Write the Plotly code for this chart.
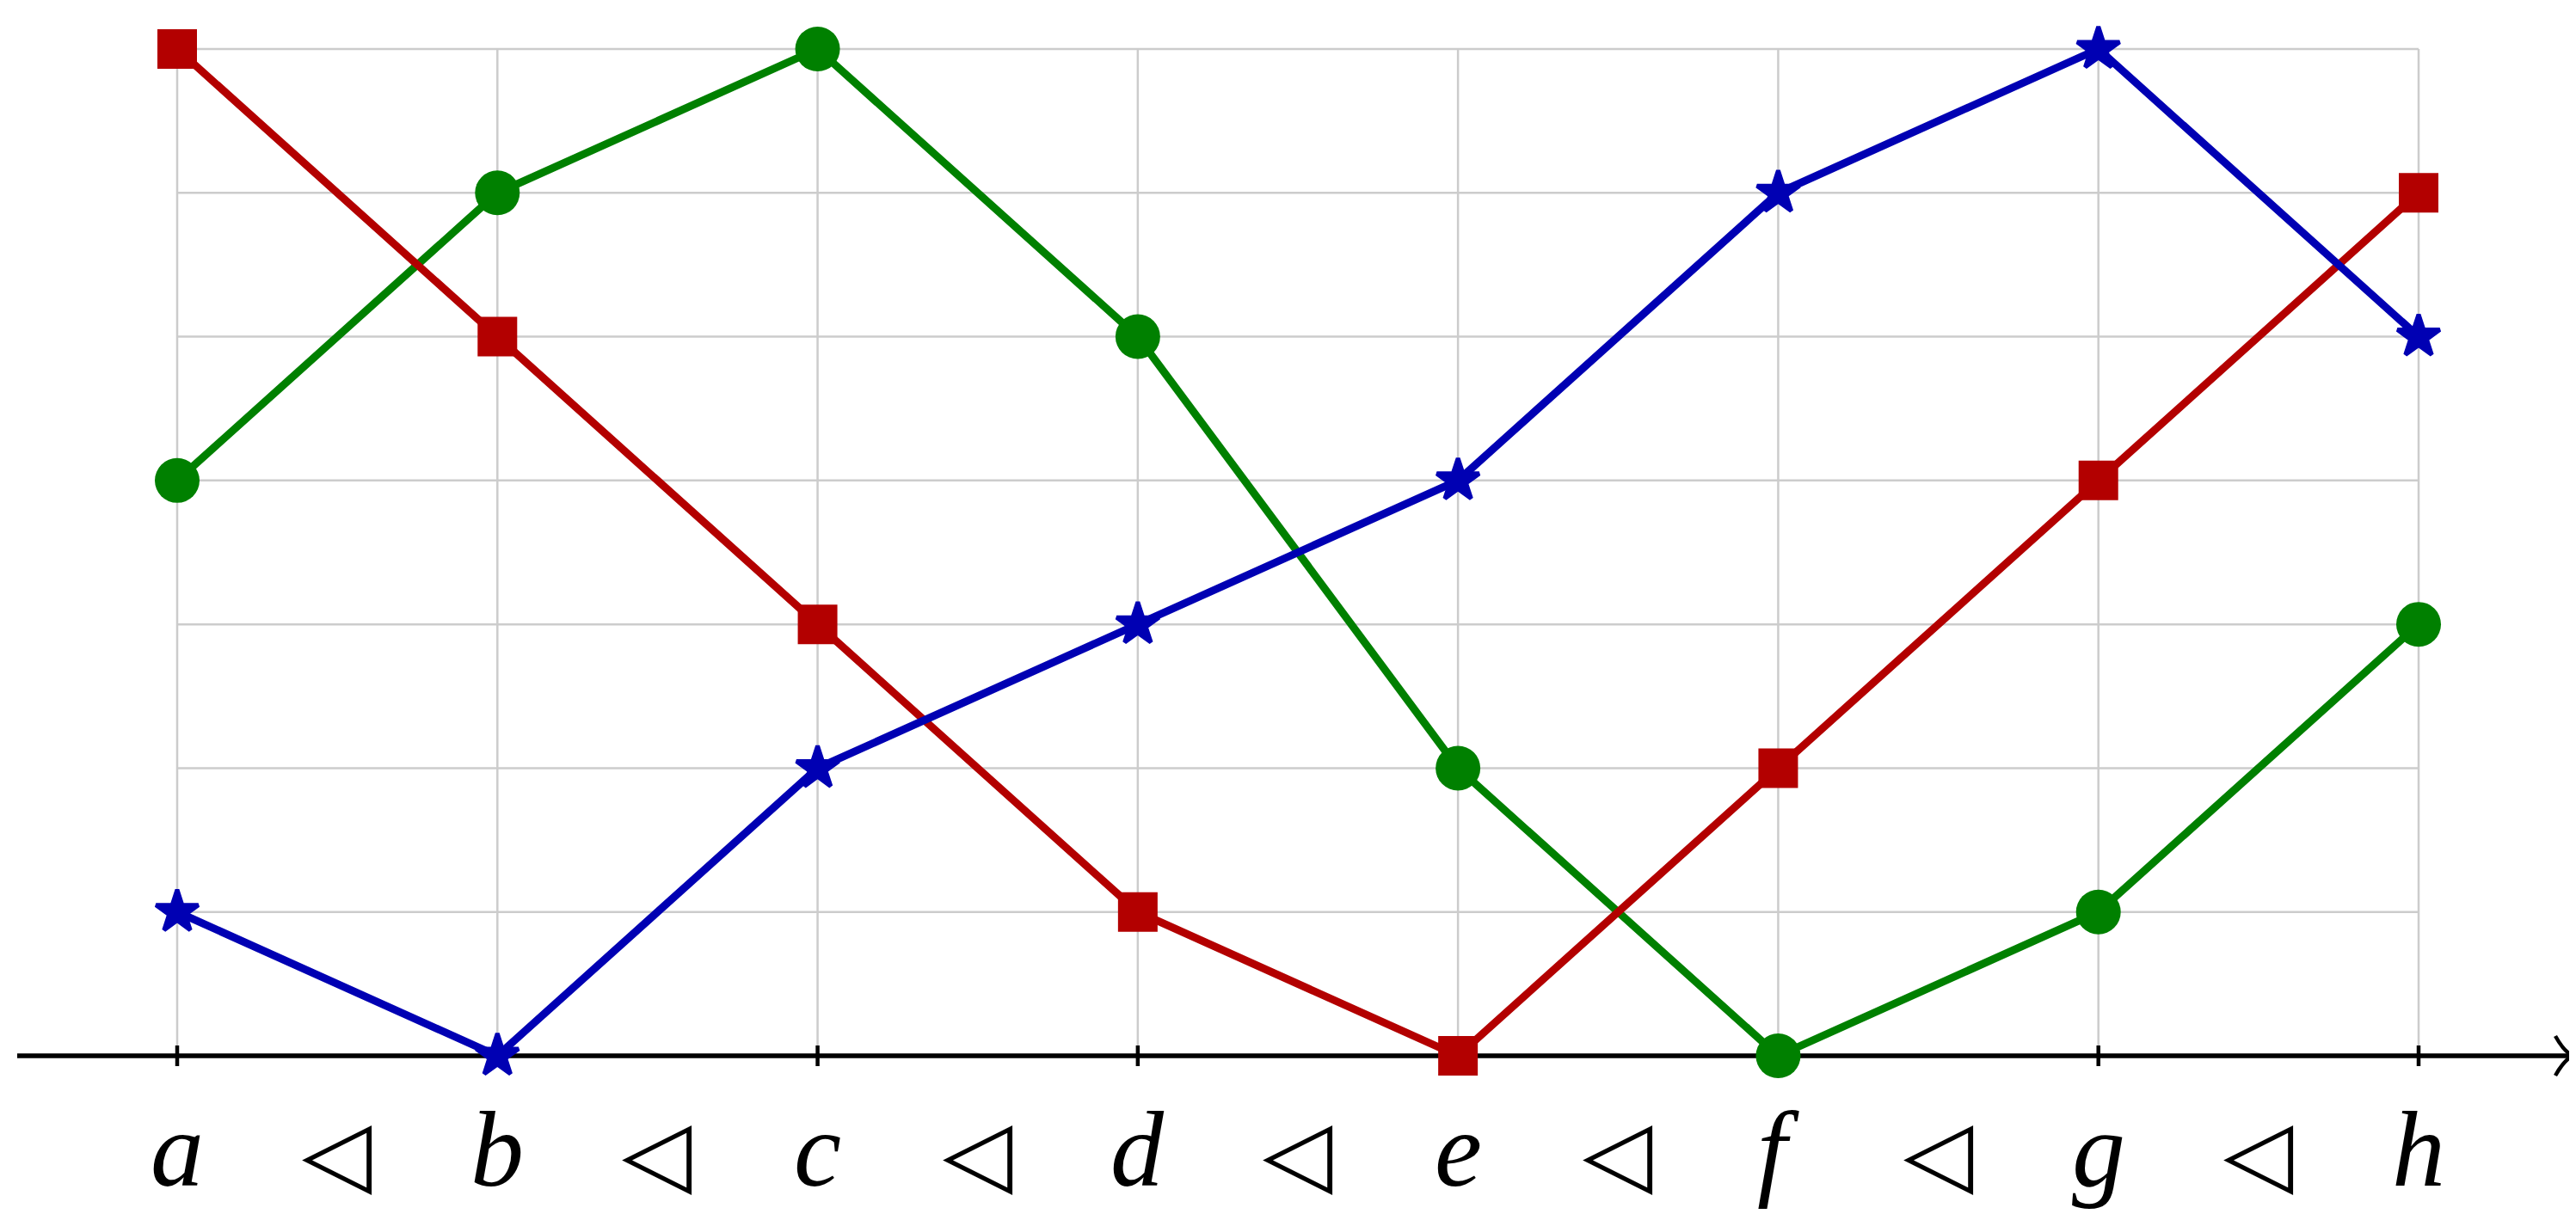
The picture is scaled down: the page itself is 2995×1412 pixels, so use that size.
import plotly.graph_objects as go

# ---- data ----
categories = ["a", "b", "c", "d", "e", "f", "g", "h"]
red_values = [7, 5, 3, 1, 0, 2, 4, 6]
green_values = [4, 6, 7, 5, 2, 0, 1, 3]
blue_values = [1, 0, 2, 3, 4, 6, 7, 5]
separator = "◁"

RED = "#B30000"
GREEN = "#008000"
BLUE = "#0000B3"
GRID = "#CCCCCC"

W, H = 2995, 1412
OFF = 8  # page body margin
xs = list(range(len(categories)))
ymax = max(red_values + green_values + blue_values)
ylevels = list(range(ymax + 1))

fig = go.Figure()

shapes = []
for xi in xs:
    shapes.append(dict(type="line", xref="x", yref="y", x0=xi, x1=xi, y0=0, y1=ymax,
                       line=dict(color=GRID, width=2.5), layer="below"))
for yl in ylevels[1:]:
    shapes.append(dict(type="line", xref="x", yref="y", x0=xs[0], x1=xs[-1], y0=yl, y1=yl,
                       line=dict(color=GRID, width=2.5), layer="below"))

px_per_x = (2812 - 206) / 7
px_per_y = (1228 - 57) / 7

x_start = (20 - 206) / px_per_x
x_tip = (2990 - 206) / px_per_x
shapes.append(dict(type="line", xref="x", yref="y", x0=x_start, x1=x_tip, y0=0, y1=0,
                   line=dict(color="black", width=5.5), layer="below"))
shapes.append(dict(type="path", xref="x", yref="y", xsizemode="pixel", ysizemode="pixel",
                   xanchor=x_tip, yanchor=0,
                   path="M -19,23 Q -9,5 1,0 Q -9,-5 -19,-23",
                   line=dict(color="black", width=4.5), layer="below"))
for xi in xs:
    shapes.append(dict(type="line", xref="x", yref="y", ysizemode="pixel", yanchor=0,
                       x0=xi, x1=xi, y0=-12, y1=12,
                       line=dict(color="black", width=4.5), layer="below"))

series = [
    (green_values, GREEN, "circle", 52, 0),
    (red_values, RED, "square", 46, 0),
    (blue_values, BLUE, "star", 37, 5),
]
for vals, col, sym, sz, lw in series:
    fig.add_trace(go.Scatter(
        x=xs, y=vals, mode="lines+markers",
        line=dict(color=col, width=9),
        marker=dict(symbol=sym, size=sz, color=col, line=dict(width=lw, color=col)),
        showlegend=False, cliponaxis=False,
    ))

annotations = []
label_y = -0.655
for xi, c in zip(xs, categories):
    annotations.append(dict(x=xi, y=label_y, xref="x", yref="y", text="<i>" + c + "</i>",
                            showarrow=False, xanchor="center", yanchor="middle",
                            font=dict(family="Liberation Serif", size=124, color="black")))
for xi in xs[:-1]:
    annotations.append(dict(x=xi + 0.5, y=-0.67, xref="x", yref="y", text=separator,
                            showarrow=False, xanchor="center", yanchor="middle",
                            font=dict(family="DejaVu Sans", size=106, color="black")))

x_range = [(OFF - 206) / px_per_x, 7 + (W - 2812) / px_per_x]
y_range = [-(H - 1228) / px_per_y, 7 + (57 - OFF) / px_per_y]

fig.update_layout(
    width=W - OFF, height=H - OFF, autosize=False,
    margin=dict(l=0, r=0, t=0, b=0, pad=0),
    paper_bgcolor="white", plot_bgcolor="white",
    xaxis=dict(range=x_range, visible=False, fixedrange=True),
    yaxis=dict(range=y_range, visible=False, fixedrange=True),
    shapes=shapes, annotations=annotations,
)

fig.write_html("out.html", config={"displayModeBar": False})
